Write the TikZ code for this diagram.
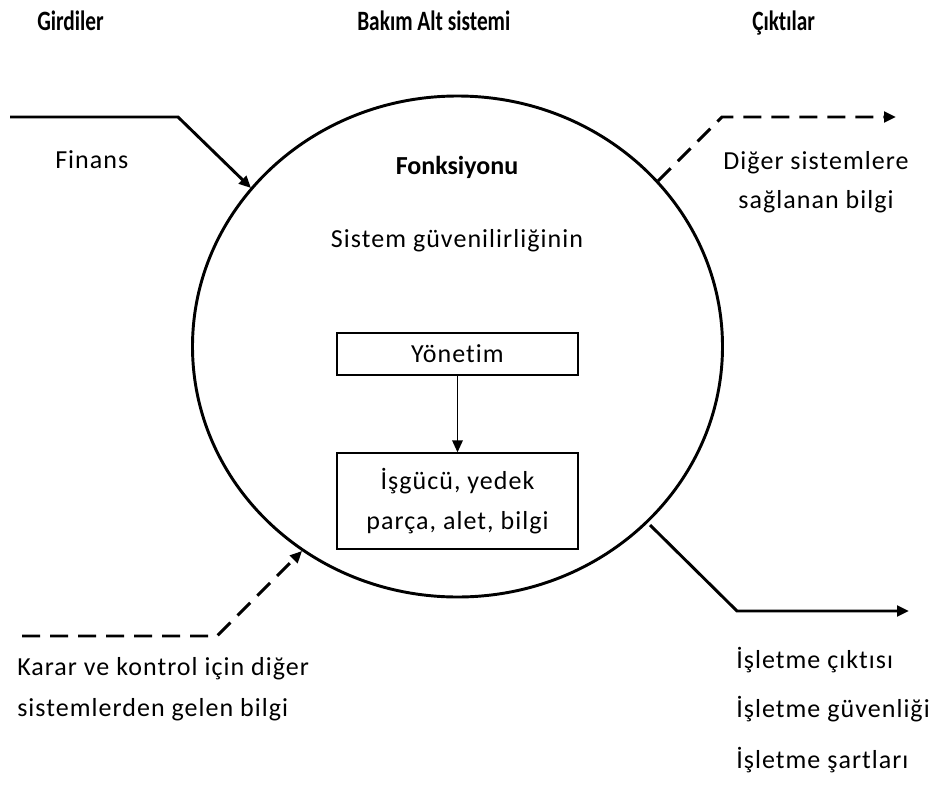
\documentclass[tikz,border=0pt]{standalone}
\usepackage{fontspec}
\setmainfont[Ligatures=NoCommon]{Carlito}
\usetikzlibrary{arrows.meta}
\usetikzlibrary{shapes.geometric}

\newcommand{\headtxt}[1]{\scalebox{0.8}[1.05]{#1}}

\tikzset{
  txt/.style={font=\fontsize{19.5}{30}\selectfont\addfontfeature{LetterSpace=4}, inner sep=0pt},
  head/.style={font=\fontsize{20}{24}\selectfont\bfseries, inner sep=0pt, anchor=base west},
  flow/.style={line width=2.2pt, -{Triangle[length=9pt,width=8pt]}},
  dflow/.style={flow, dash pattern=on 13.5pt off 7.5pt},
  box/.style={draw, line width=1.1pt, minimum width=180.75pt, align=center, txt}
}

\begin{document}
\begin{tikzpicture}[x=0.75pt,y=-0.75pt]
\useasboundingbox (0,0) rectangle (947,811);
% titles
\node[head] (gir) at (37,30) {\headtxt{Girdiler}};
\node[head] (bak) at (357,30) {\headtxt{Bakım Alt sistemi}};
\node[head] (cik) at (752,30) {\headtxt{Çıktılar}};
% system
\node[draw, ellipse, line width=2.2pt, minimum width=397.5pt, minimum height=375.75pt, inner sep=0pt] (sys) at (457.5,346.5) {};
\node[txt, font=\fontsize{19.5}{24}\selectfont\bfseries, anchor=base] (fonk) at (457,174) {Fonksiyonu};
\node[txt, anchor=base] (guv) at (457,247) {Sistem güvenilirliğinin};
\node[box, minimum height=31.5pt] (yon) at (457.5,354) {Yönetim};
\node[box, minimum height=72pt] (kay) at (457.5,501) {İşgücü, yedek\\parça, alet, bilgi};
\draw[line width=1.1pt, -{Triangle[length=9pt,width=8pt]}] (yon) -- (kay);
% inputs
\coordinate (A) at (10,117);
\coordinate (B) at (178,117);
\coordinate (C) at (251,188);
\draw[flow] (A) -- (B) -- (C);
\node[txt, anchor=base west] (fin) at (55,168) {Finans};
\coordinate (D) at (22,636);
\coordinate (E) at (217,636);
\coordinate (F) at (302,551);
\draw[dflow] (D) -- (E) -- (F);
\node[txt, anchor=base west] (kar1) at (17,675) {Karar ve kontrol için diğer};
\node[txt, anchor=base west] (kar2) at (17,716) {sistemlerden gelen bilgi};
% outputs
\coordinate (G) at (658,181);
\coordinate (H) at (722,117);
\coordinate (I) at (896,117);
\draw[dflow] (G) -- (H) -- (I);
\node[txt, anchor=base] (dig1) at (816,169) {Diğer sistemlere};
\node[txt, anchor=base] (dig2) at (816,208) {sağlanan bilgi};
\coordinate (J) at (650,525);
\coordinate (K) at (737,611);
\coordinate (L) at (909,611);
\draw[flow] (J) -- (K) -- (L);
\node[txt, anchor=base west] (isl1) at (736,668) {İşletme çıktısı};
\node[txt, anchor=base west] (isl2) at (736,717) {İşletme güvenliği};
\node[txt, anchor=base west] (isl3) at (736,768) {İşletme şartları};
\end{tikzpicture}
\end{document}
